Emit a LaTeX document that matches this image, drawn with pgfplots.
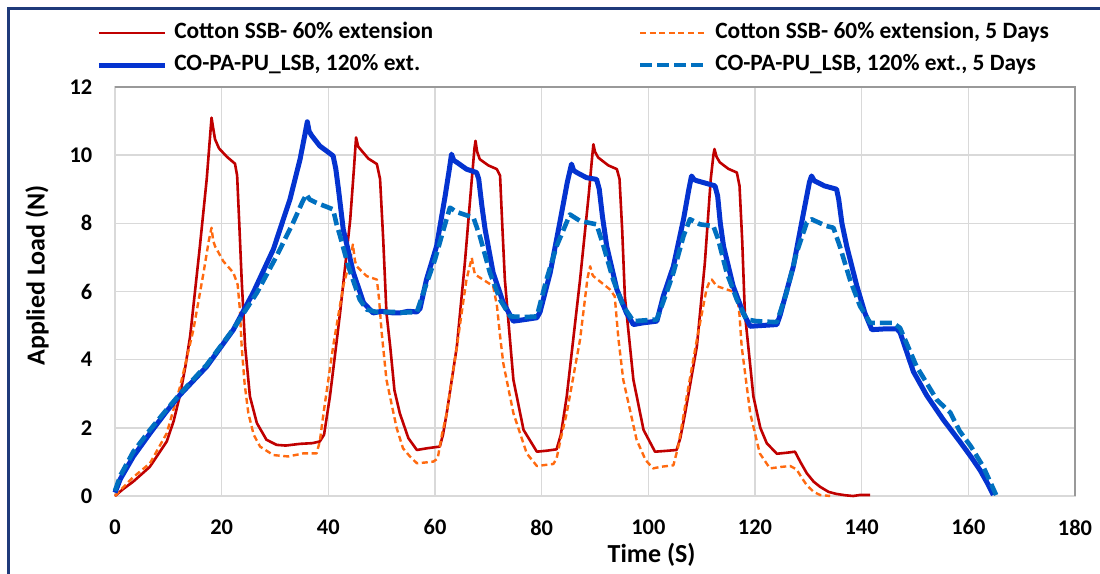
\documentclass[border=0pt]{standalone}
\usepackage{pgfplots}
\pgfplotsset{compat=1.18}
\usepackage{fontspec}
\setmainfont{Carlito}
\definecolor{cRed}{HTML}{C00000}
\definecolor{cOrange}{HTML}{FF6A10}
\definecolor{cBlue}{HTML}{0433D0}
\definecolor{cBlueD}{HTML}{0070C0}
\definecolor{navy}{HTML}{1F3A7A}
\definecolor{gridgray}{HTML}{D9D9D9}
\definecolor{framegray}{HTML}{999999}
\begin{document}
\begin{tikzpicture}
\useasboundingbox (0,0) rectangle (550pt,287pt);
\fill[white] (0,0) rectangle (550pt,287pt);
\draw[navy, line width=1.5pt] (4pt,-1pt) -- (4pt,282.5pt) -- (551pt,282.5pt);
\begin{axis}[
  at={(57.5pt,39pt)}, anchor=south west,
  scale only axis, width=480pt, height=204.5pt,
  xmin=0, xmax=180, ymin=0, ymax=12,
  xtick={0,20,...,180}, ytick={0,2,...,12},
  grid=major, major grid style={draw=gridgray, line width=0.75pt},
  major tick length=0pt,
  axis line style={draw=gridgray, line width=1pt},
  clip=false,
  /pgf/number format/assume math mode=true,
  tick label style={font=\bfseries\fontsize{11.2}{13}\selectfont},
  yticklabel style={xshift=-7.8pt},
  xticklabel style={yshift=-8.3pt},
  xlabel={Time (S)}, ylabel={Applied Load (N)},
  every axis x label/.style={at={(axis description cs:0.559,-0.144)}, anchor=center, font=\bfseries\fontsize{13}{15}\selectfont},
  every axis y label/.style={at={(axis description cs:-0.0813,0.54)}, anchor=center, rotate=90, font=\bfseries\fontsize{13}{15}\selectfont},
  legend columns=2,
  legend cell align=left,
  legend image code/.code={\draw[#1, line cap=butt] (0pt,0pt) -- (33pt,0pt);},
  legend style={draw=none, fill=none, inner sep=0pt, outer sep=0pt,
    at={(axis description cs:-0.0195,1.1577)}, anchor=north west,
    font=\bfseries\fontsize{11.7}{13}\selectfont,
    nodes={inner sep=0pt, text height=8pt, text depth=2.5pt},
    row sep=5.5pt,
    /tikz/every odd column/.append style={column sep=3.5pt},
    /tikz/every even column/.append style={column sep=102.3pt}},
  every axis plot/.append style={line join=round},
]
\addplot[draw=cRed, line width=1.3pt] coordinates {
(0,0) (1.5,0.2) (3.4,0.42) (6.5,0.85) (9.7,1.6) (11,2.2) (12.2,2.97) (13.2,3.8) (14.1,4.7) (15.0,6.0) (15.9,7.3) (17.2,9.3) (17.8,10.5) (18.1,11.1) (18.4,10.8) (18.75,10.47) (19.5,10.2) (21,9.95) (22.5,9.75) (22.9,9.4) (23.3,8.0) (23.75,6.35) (24.4,4.39) (25.3,2.92) (26.6,2.14) (28.4,1.65) (30.3,1.5) (32,1.48) (34.7,1.53) (37,1.55) (38.4,1.6) (39.2,1.8) (40.3,2.92) (41.3,4.2) (42.2,5.37) (43.2,6.8) (44.1,8.1) (44.8,9.6) (45.2,10.52) (45.6,10.25) (46.25,10.13) (47.5,9.9) (49.1,9.74) (49.7,9.3) (50.3,7.5) (50.9,5.37) (51.6,4.39) (52.4,3.1) (53.4,2.43) (55,1.7) (56.6,1.35) (58.5,1.4) (60.9,1.45) (61.5,1.8) (62.2,2.43) (64.1,4.39) (65.6,6.84) (66.9,9.29) (67.4,10.2) (67.6,10.42) (67.9,10.1) (68.4,9.88) (70,9.7) (71.6,9.59) (72.2,9.4) (72.6,8.0) (73.1,6.35) (74.7,3.41) (76.6,1.94) (79.1,1.3) (81,1.33) (82.8,1.37) (83.6,1.8) (84.7,2.92) (87.2,6.35) (88.8,8.8) (89.5,10.0) (89.7,10.32) (90,10.1) (90.6,9.93) (92.5,9.7) (94.1,9.59) (94.6,9.3) (95.1,7.8) (95.6,5.86) (97.2,3.41) (99.1,1.94) (101.25,1.3) (103,1.32) (105.3,1.35) (106,1.7) (106.9,2.43) (109.1,4.39) (110.6,6.84) (111.7,9.29) (112.2,10.0) (112.4,10.18) (112.8,9.95) (113.4,9.79) (115,9.6) (116.6,9.49) (117.1,9.1) (117.6,7.5) (118.1,5.37) (119.7,2.92) (121,2.0) (122.2,1.55) (124.1,1.24) (126,1.27) (127.5,1.3) (128.5,1.0) (129.7,0.67) (131,0.42) (132.2,0.27) (133.8,0.12) (135.3,0.06) (137,0.02) (138.4,0) (139.7,0.03) (141.6,0.03)
};
\addlegendentry{Cotton SSB- 60\% extension}
\addplot[draw=cOrange, line width=1.2pt, dash pattern=on 3pt off 1.8pt] coordinates {
(0,0) (1.5,0.25) (3.4,0.55) (6.56,0.96) (9.7,1.84) (12.2,3.21) (14.7,4.88) (16.6,6.55) (17.6,7.5) (18.1,7.87) (18.4,7.5) (18.75,7.33) (20.3,6.89) (22.2,6.55) (23.0,6.2) (23.4,5.5) (23.75,4.39) (24.3,3.3) (25.0,2.43) (26,1.8) (27.2,1.45) (29.7,1.2) (32.5,1.16) (35.3,1.25) (37.8,1.25) (38.4,1.6) (39.1,2.43) (40.9,4.39) (42.8,6.16) (44.2,7.0) (44.6,7.38) (45.0,6.9) (45.3,6.74) (47.2,6.45) (49.1,6.35) (49.5,5.8) (50.0,4.8) (50.9,3.41) (52.8,2.0) (54,1.4) (55.3,1.16) (56.6,0.96) (58,0.98) (59.7,1.01) (60.5,1.1) (61.3,1.8) (62.2,2.43) (64.1,4.39) (65.9,6.35) (66.9,6.99) (67.2,6.7) (67.5,6.5) (70.9,6.16) (71.6,5.6) (72.2,4.7) (72.8,3.9) (74.7,2.43) (77.2,1.25) (79.1,0.88) (82.2,0.94) (82.8,1.1) (83.6,1.7) (84.7,2.43) (87.2,4.59) (88.6,6.4) (89.1,6.74) (89.5,6.5) (89.7,6.45) (92.8,6.06) (93.7,5.86) (94.4,4.6) (95.3,3.41) (97.8,1.65) (99.5,1.05) (100.9,0.81) (102.5,0.86) (104.7,0.9) (105.6,1.45) (107.2,2.92) (109.1,4.59) (110.9,6.06) (111.5,6.3) (111.9,6.35) (112.8,6.16) (116.6,5.96) (117.1,5.3) (117.5,4.39) (119.1,2.43) (120.9,1.25) (122.8,0.81) (124.7,0.85) (126.6,0.88) (127.8,0.78) (128.7,0.55) (129.7,0.32) (131,0.12) (132.2,0.03) (134.1,0)
};
\addlegendentry{Cotton SSB- 60\% extension, 5 Days}
\addplot[draw=cBlue, line width=2.5pt] coordinates {
(0,0.1) (1,0.5) (3.44,1.16) (6.56,1.84) (9.5,2.45) (12.2,2.97) (17.2,3.8) (22.2,4.88) (25.9,5.96) (29.7,7.24) (32.8,8.7) (34.7,9.88) (35.6,10.6) (36.06,10.98) (36.4,10.7) (36.9,10.57) (38.4,10.27) (40.3,10.05) (40.9,9.98) (41.4,9.6) (41.9,9.0) (42.8,7.82) (44.7,6.55) (46.6,5.67) (48.4,5.37) (50,5.42) (52.2,5.37) (53.4,5.37) (55,5.42) (56.6,5.4) (57.2,5.5) (58.4,6.35) (60.3,7.33) (61.9,8.8) (62.7,9.6) (63.1,10.03) (63.5,9.85) (64.1,9.79) (65.9,9.59) (67.8,9.49) (68.2,9.3) (68.8,8.5) (69.4,7.82) (70.9,6.55) (72.8,5.67) (74.7,5.13) (77,5.18) (79.1,5.23) (79.7,5.4) (81.6,6.55) (83.4,8.02) (84.8,9.2) (85.6,9.74) (86.0,9.55) (86.6,9.49) (88.4,9.34) (90.3,9.29) (90.8,9.0) (91.4,8.2) (92.2,7.33) (94.1,6.06) (95.9,5.37) (97.2,5.03) (99,5.08) (101.6,5.13) (102.8,5.86) (104.7,6.74) (106.6,8.12) (107.6,9.0) (108.1,9.39) (108.6,9.28) (109.1,9.25) (112.5,9.1) (113.0,8.8) (113.5,8.0) (114.1,7.33) (115.9,6.16) (117.8,5.37) (119.1,4.98) (121,5.0) (124.1,5.03) (124.7,5.3) (127.2,6.74) (129.1,8.31) (130.2,9.2) (130.6,9.39) (131.1,9.25) (133,9.1) (135.3,9.0) (135.7,8.7) (136.3,8.0) (137.2,7.33) (139.1,6.16) (140.6,5.37) (141.9,4.88) (144,4.9) (146.6,4.9) (147.2,4.8) (149.7,3.65) (152.2,2.95) (155.3,2.24) (158.4,1.6) (160.5,1.15) (162.2,0.76) (163.5,0.4) (164.7,0.03)
};
\addlegendentry{CO-PA-PU\_LSB, 120\% ext.}
\addplot[draw=cBlueD, line width=2.3pt, dash pattern=on 6pt off 2.5pt] coordinates {
(0,0.15) (1,0.6) (3.44,1.3) (6.56,1.94) (9.5,2.5) (12.2,3.0) (17.2,3.85) (22.2,4.9) (26.6,5.96) (30.3,7.04) (33.4,8.02) (35.2,8.65) (35.9,8.85) (36.5,8.7) (37.8,8.6) (40.9,8.41) (41.5,8.0) (42.2,7.63) (43.75,6.74) (45.9,5.76) (47.2,5.47) (49,5.4) (52.2,5.4) (54,5.38) (56.6,5.4) (57.8,5.96) (60,6.94) (61.6,7.82) (62.8,8.46) (64.1,8.33) (67.2,8.17) (67.8,7.9) (68.4,7.63) (70.3,6.55) (72.2,5.76) (74.1,5.27) (77,5.25) (79.1,5.27) (80.9,6.35) (82.8,7.33) (85.3,8.26) (87.2,8.07) (90.3,7.97) (91.6,7.33) (93.4,6.35) (95.3,5.57) (97.2,5.13) (99,5.15) (101.6,5.18) (103.4,5.96) (104.7,6.55) (106.6,7.63) (107.8,8.12) (109.7,7.97) (112.2,7.92) (113.1,7.53) (114.7,6.55) (116.6,5.76) (118.4,5.18) (120.3,5.13) (124.1,5.1) (125.9,5.96) (127.8,7.14) (129.7,8.02) (130.6,8.12) (133.4,7.92) (134.7,7.87) (135.9,7.33) (137.8,6.35) (139.7,5.57) (141.6,5.08) (145.9,5.08) (147.2,4.93) (150.3,3.8) (154.1,2.82) (156.6,2.45) (158.4,1.9) (160.5,1.45) (162.8,0.86) (165.3,0)
};
\addlegendentry{CO-PA-PU\_LSB, 120\% ext., 5 Days}
\draw[framegray, line width=1pt] (rel axis cs:0,1) -- (rel axis cs:1,1) -- (rel axis cs:1,0);
\end{axis}
\end{tikzpicture}
\end{document}
